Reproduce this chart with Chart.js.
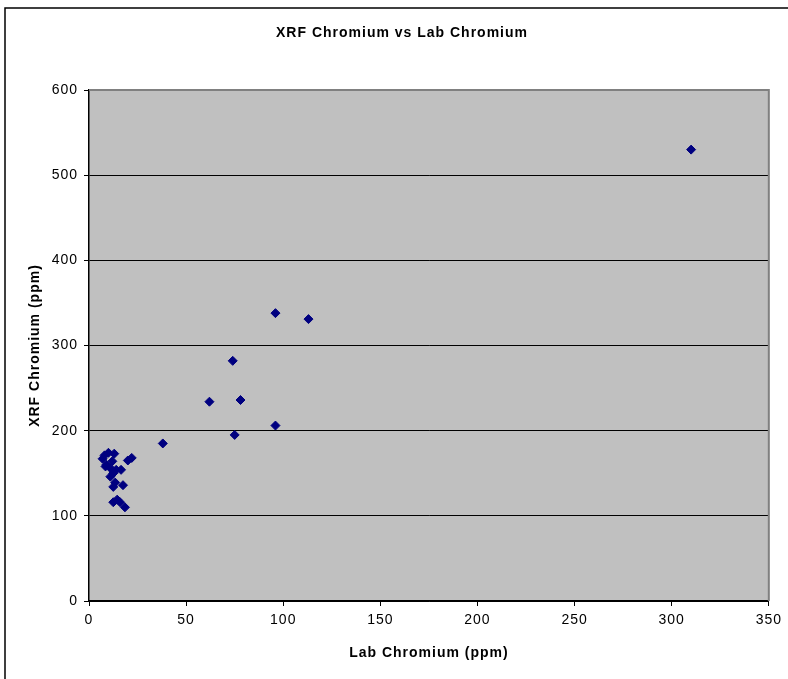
<!DOCTYPE html>
<html>
<head>
<meta charset="utf-8">
<title>XRF Chromium vs Lab Chromium</title>
<script src="https://cdn.jsdelivr.net/npm/chart.js@4.4.1/dist/chart.umd.min.js"></script>
<style>
  html, body { margin: 0; padding: 0; background: #fff; }
  #wrap { width: 788px; height: 679px; position: relative; }
</style>
</head>
<body>
<div id="wrap"><canvas id="xrfChart" width="788" height="679"></canvas></div>
<script>
// Lab chromium (x) vs XRF chromium (y), ppm
const labCr = [310, 96, 113, 74, 62, 78, 75, 96, 38, 20, 22,
  8, 10, 13, 7, 9, 12, 11, 14, 12.5, 11, 12.5, 13.5, 17.5, 16.5, 14.5, 16, 18.5, 12.5, 8.5];
const xrfCr = [530, 338, 331, 282, 234, 236, 195, 206, 185, 165, 168,
  171, 174, 173, 167, 160, 164, 156, 154, 150, 146, 134, 139, 136, 154, 119, 116, 110, 116, 158];
const xTicks = [0, 50, 100, 150, 200, 250, 300, 350];
const yTicks = [0, 100, 200, 300, 400, 500, 600];

const chartTitle = 'XRF Chromium vs Lab Chromium';
const FONT = "'Liberation Sans', Arial, sans-serif";

const points = labCr.map((x, i) => ({ x: x, y: xrfCr[i] }));

// grey plot area, frame lines, spaced-out text like the original
const plotFrame = {
  id: 'plotFrame',
  beforeLayout(chart) {
    chart.ctx.letterSpacing = '1px';
  },
  beforeDraw(chart) {
    const { ctx, chartArea: a } = chart;
    ctx.save();
    ctx.fillStyle = '#ffffff';
    ctx.fillRect(0, 0, chart.width, chart.height);
    ctx.fillStyle = '#c0c0c0';
    ctx.fillRect(a.left, a.top, a.right - a.left, a.bottom - a.top);
    // outer chart border (left and top visible)
    ctx.strokeStyle = '#000';
    ctx.lineWidth = 1.5;
    ctx.beginPath();
    ctx.moveTo(5, chart.height);
    ctx.lineTo(5, 8);
    ctx.lineTo(chart.width, 8);
    ctx.stroke();
    // title
    ctx.fillStyle = '#000';
    ctx.font = 'bold 14px ' + FONT;
    ctx.letterSpacing = '1px';
    ctx.textAlign = 'center';
    ctx.textBaseline = 'middle';
    ctx.fillText(chartTitle, 402, 33);
    ctx.restore();
  },
  afterDatasetsDraw(chart) {
    const { ctx, chartArea: a } = chart;
    ctx.save();
    ctx.strokeStyle = '#808080';
    ctx.lineWidth = 2;
    ctx.beginPath();
    ctx.moveTo(a.left, a.top);
    ctx.lineTo(a.right, a.top);
    ctx.lineTo(a.right, a.bottom);
    ctx.stroke();
    ctx.restore();
  }
};

new Chart(document.getElementById('xrfChart'), {
  type: 'scatter',
  data: {
    datasets: [{
      label: 'XRF Cr',
      data: points,
      backgroundColor: '#000080',
      borderColor: '#000080',
      pointStyle: 'rectRot',
      pointRadius: 4.5,
      pointHoverRadius: 4.5
    }]
  },
  options: {
    responsive: false,
    animation: false,
    layout: { padding: { left: 0, right: 18, top: 90, bottom: 0 } },
    plugins: {
      legend: { display: false },
      tooltip: { enabled: false },
      title: { display: false }
    },
    scales: {
      x: {
        type: 'linear',
        min: 0,
        max: 350,
        afterBuildTicks(scale) { scale.ticks = xTicks.map(v => ({ value: v })); },
        afterFit(scale) { scale.height = 78; },
        ticks: { color: '#000', font: { family: FONT, size: 14 }, padding: 6 },
        grid: { drawOnChartArea: false, tickColor: '#000', tickLength: 5 },
        border: { color: '#000', width: 1.5 },
        title: {
          display: true,
          text: 'Lab Chromium (ppm)',
          color: '#000',
          font: { family: FONT, size: 14, weight: 'bold' },
          padding: { top: 0, bottom: 17 }
        }
      },
      y: {
        type: 'linear',
        min: 0,
        max: 600,
        afterBuildTicks(scale) { scale.ticks = yTicks.map(v => ({ value: v })); },
        afterFit(scale) { scale.width = 89; },
        ticks: { color: '#000', font: { family: FONT, size: 14 }, padding: 6 },
        grid: {
          color: ctx => (ctx.tick && ctx.tick.value === 600) ? 'rgba(0,0,0,0)' : '#000',
          tickColor: '#000',
          tickLength: 5,
          lineWidth: 1
        },
        border: { color: '#000', width: 1.5 },
        title: {
          display: true,
          text: 'XRF Chromium (ppm)',
          color: '#000',
          font: { family: FONT, size: 14, weight: 'bold' },
          padding: { top: 27, bottom: 0 }
        }
      }
    }
  },
  plugins: [plotFrame]
});
</script>
</body>
</html>
